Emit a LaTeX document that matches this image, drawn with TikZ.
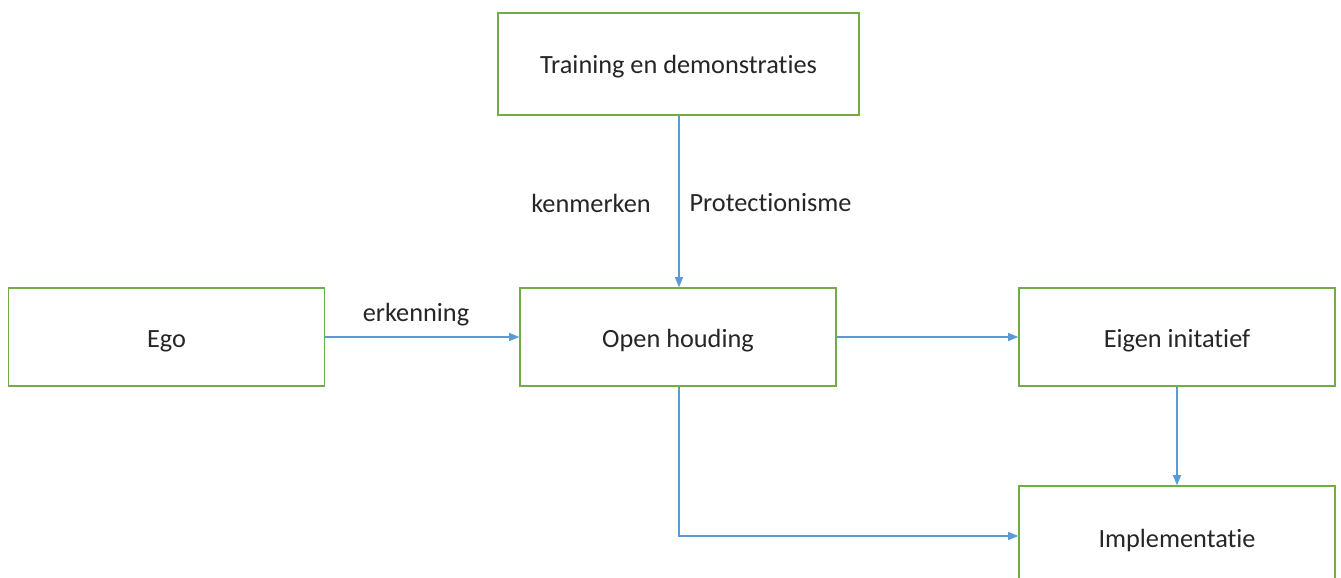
\documentclass[tikz,border=0pt]{standalone}
\usepackage{fontspec}
\setmainfont{Carlito}[Ligatures=NoCommon]
\usetikzlibrary{arrows.meta}
\definecolor{boxgreen}{HTML}{70AD47}
\definecolor{linkblue}{HTML}{5B9BD5}
\begin{document}
\begin{tikzpicture}[x=1pt,y=-1pt,
  blok/.style={draw=boxgreen,line width=1.6pt,fill=white,minimum width=316pt,minimum height=98pt,
    inner sep=0pt,text height=22pt,text depth=2pt,font=\fontsize{26.3}{30}\selectfont,text=black!85},
  pijl/.style={draw=linkblue,line width=1.1pt,-{Triangle[length=10pt,width=8pt]}},
  lbl/.style={font=\fontsize{26.3}{30}\selectfont,text=black!85,inner sep=0pt}]
\useasboundingbox (0,0) rectangle (1341,578);
\clip (0,0) rectangle (1341,578);
\fill[white] (0,0) rectangle (1341,578);
% boxes
\node[blok,minimum width=361pt,minimum height=102pt] (train) at (678.5,64) {Training en demonstraties};
\node[blok] (ego) at (166.5,337) {Ego};
\node[blok] (open) at (678,337) {Open houding};
\node[blok] (eigen) at (1177,337) {Eigen initatief};
\node[blok,minimum height=102pt] (impl) at (1177,537) {Implementatie};
\coordinate (bend) at (679,536);
% connectors
\draw[pijl] (train.south -| 679,0) -- (open.north -| 679,0);
\draw[pijl] (ego.east) -- (open.west);
\draw[pijl] (open.east) -- (eigen.west);
\draw[pijl] (eigen.south) -- (impl.north);
\draw[pijl] (open.south -| bend) -- (bend) -- (bend -| impl.west);
% labels
\node[lbl] (kenm) at (591,203) {kenmerken};
\node[lbl] (prot) at (770.5,203) {Protectionisme};
\node[lbl] (erk) at (416,314.5) {erkenning};
\end{tikzpicture}
\end{document}
